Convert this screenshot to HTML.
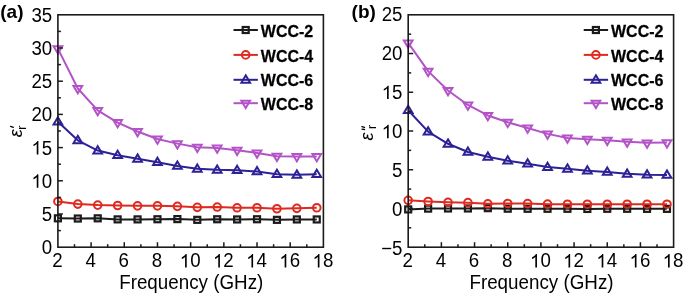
<!DOCTYPE html>
<html><head><meta charset="utf-8"><style>
html,body{margin:0;padding:0;background:#fff;}
body{width:685px;height:295px;overflow:hidden;}
svg{display:block;will-change:transform;filter:blur(0.35px);}
text{font-family:"Liberation Sans",sans-serif;fill:#000;}
</style></head><body>
<svg width="685" height="295" viewBox="0 0 685 295">
<text x="52.20" y="267.50" font-size="18.7" transform="matrix(1,0,0,1.045,0,-12.037)">2</text>
<text x="85.39" y="267.50" font-size="18.7" transform="matrix(1,0,0,1.045,0,-12.037)">4</text>
<text x="118.58" y="267.50" font-size="18.7" transform="matrix(1,0,0,1.045,0,-12.037)">6</text>
<text x="151.76" y="267.50" font-size="18.7" transform="matrix(1,0,0,1.045,0,-12.037)">8</text>
<text x="179.75" y="267.50" font-size="18.7" transform="matrix(1,0,0,1.045,0,-12.037)"> 0</text><path d="M763 0H583V1147Q518 1085 412 1023Q307 961 223 930V1104Q374 1175 487 1276Q600 1377 647 1472H763Z" transform="translate(179.75,267.50) scale(0.00913,-0.00913)" fill="#000"/>
<text x="212.94" y="267.50" font-size="18.7" transform="matrix(1,0,0,1.045,0,-12.037)"> 2</text><path d="M763 0H583V1147Q518 1085 412 1023Q307 961 223 930V1104Q374 1175 487 1276Q600 1377 647 1472H763Z" transform="translate(212.94,267.50) scale(0.00913,-0.00913)" fill="#000"/>
<text x="246.13" y="267.50" font-size="18.7" transform="matrix(1,0,0,1.045,0,-12.037)"> 4</text><path d="M763 0H583V1147Q518 1085 412 1023Q307 961 223 930V1104Q374 1175 487 1276Q600 1377 647 1472H763Z" transform="translate(246.13,267.50) scale(0.00913,-0.00913)" fill="#000"/>
<text x="279.32" y="267.50" font-size="18.7" transform="matrix(1,0,0,1.045,0,-12.037)"> 6</text><path d="M763 0H583V1147Q518 1085 412 1023Q307 961 223 930V1104Q374 1175 487 1276Q600 1377 647 1472H763Z" transform="translate(279.32,267.50) scale(0.00913,-0.00913)" fill="#000"/>
<text x="312.50" y="267.50" font-size="18.7" transform="matrix(1,0,0,1.045,0,-12.037)"> 8</text><path d="M763 0H583V1147Q518 1085 412 1023Q307 961 223 930V1104Q374 1175 487 1276Q600 1377 647 1472H763Z" transform="translate(312.50,267.50) scale(0.00913,-0.00913)" fill="#000"/>
<text x="41.80" y="254.15" font-size="18.7" transform="matrix(1,0,0,1.045,0,-11.437)">0</text>
<text x="41.80" y="220.95" font-size="18.7" transform="matrix(1,0,0,1.045,0,-9.943)">5</text>
<text x="31.41" y="187.75" font-size="18.7" transform="matrix(1,0,0,1.045,0,-8.449)"> 0</text><path d="M763 0H583V1147Q518 1085 412 1023Q307 961 223 930V1104Q374 1175 487 1276Q600 1377 647 1472H763Z" transform="translate(31.41,187.75) scale(0.00913,-0.00913)" fill="#000"/>
<text x="31.41" y="154.55" font-size="18.7" transform="matrix(1,0,0,1.045,0,-6.955)"> 5</text><path d="M763 0H583V1147Q518 1085 412 1023Q307 961 223 930V1104Q374 1175 487 1276Q600 1377 647 1472H763Z" transform="translate(31.41,154.55) scale(0.00913,-0.00913)" fill="#000"/>
<text x="31.41" y="121.35" font-size="18.7" transform="matrix(1,0,0,1.045,0,-5.461)">20</text>
<text x="31.41" y="88.15" font-size="18.7" transform="matrix(1,0,0,1.045,0,-3.967)">25</text>
<text x="31.41" y="54.95" font-size="18.7" transform="matrix(1,0,0,1.045,0,-2.473)">30</text>
<text x="31.41" y="21.75" font-size="18.7" transform="matrix(1,0,0,1.045,0,-0.979)">35</text>
<path d="M57.90 218.32L77.81 218.52L97.72 218.32L117.64 219.38L137.55 219.38L157.46 219.25L177.38 219.11L197.29 219.84L217.20 219.25L237.11 219.44L257.02 219.25L276.94 219.84L296.85 219.44L316.76 219.44" fill="none" stroke="#1b1b1b" stroke-width="2.0" stroke-linejoin="round"/>
<rect x="54.90" y="215.32" width="6.0" height="6.0" fill="none" stroke="#1b1b1b" stroke-width="2.2"/>
<rect x="74.81" y="215.52" width="6.0" height="6.0" fill="none" stroke="#1b1b1b" stroke-width="2.2"/>
<rect x="94.72" y="215.32" width="6.0" height="6.0" fill="none" stroke="#1b1b1b" stroke-width="2.2"/>
<rect x="114.64" y="216.38" width="6.0" height="6.0" fill="none" stroke="#1b1b1b" stroke-width="2.2"/>
<rect x="134.55" y="216.38" width="6.0" height="6.0" fill="none" stroke="#1b1b1b" stroke-width="2.2"/>
<rect x="154.46" y="216.25" width="6.0" height="6.0" fill="none" stroke="#1b1b1b" stroke-width="2.2"/>
<rect x="174.38" y="216.11" width="6.0" height="6.0" fill="none" stroke="#1b1b1b" stroke-width="2.2"/>
<rect x="194.29" y="216.84" width="6.0" height="6.0" fill="none" stroke="#1b1b1b" stroke-width="2.2"/>
<rect x="214.20" y="216.25" width="6.0" height="6.0" fill="none" stroke="#1b1b1b" stroke-width="2.2"/>
<rect x="234.11" y="216.44" width="6.0" height="6.0" fill="none" stroke="#1b1b1b" stroke-width="2.2"/>
<rect x="254.02" y="216.25" width="6.0" height="6.0" fill="none" stroke="#1b1b1b" stroke-width="2.2"/>
<rect x="273.94" y="216.84" width="6.0" height="6.0" fill="none" stroke="#1b1b1b" stroke-width="2.2"/>
<rect x="293.85" y="216.44" width="6.0" height="6.0" fill="none" stroke="#1b1b1b" stroke-width="2.2"/>
<rect x="313.76" y="216.44" width="6.0" height="6.0" fill="none" stroke="#1b1b1b" stroke-width="2.2"/>
<path d="M57.90 201.45L77.81 204.11L97.72 205.10L117.64 205.50L137.55 205.83L157.46 205.83L177.38 206.36L197.29 207.36L217.20 207.03L237.11 207.82L257.02 207.76L276.94 208.75L296.85 208.36L316.76 207.76" fill="none" stroke="#df2a20" stroke-width="2.0" stroke-linejoin="round"/>
<circle cx="57.90" cy="201.45" r="3.8" fill="none" stroke="#df2a20" stroke-width="2.0"/>
<circle cx="77.81" cy="204.11" r="3.8" fill="none" stroke="#df2a20" stroke-width="2.0"/>
<circle cx="97.72" cy="205.10" r="3.8" fill="none" stroke="#df2a20" stroke-width="2.0"/>
<circle cx="117.64" cy="205.50" r="3.8" fill="none" stroke="#df2a20" stroke-width="2.0"/>
<circle cx="137.55" cy="205.83" r="3.8" fill="none" stroke="#df2a20" stroke-width="2.0"/>
<circle cx="157.46" cy="205.83" r="3.8" fill="none" stroke="#df2a20" stroke-width="2.0"/>
<circle cx="177.38" cy="206.36" r="3.8" fill="none" stroke="#df2a20" stroke-width="2.0"/>
<circle cx="197.29" cy="207.36" r="3.8" fill="none" stroke="#df2a20" stroke-width="2.0"/>
<circle cx="217.20" cy="207.03" r="3.8" fill="none" stroke="#df2a20" stroke-width="2.0"/>
<circle cx="237.11" cy="207.82" r="3.8" fill="none" stroke="#df2a20" stroke-width="2.0"/>
<circle cx="257.02" cy="207.76" r="3.8" fill="none" stroke="#df2a20" stroke-width="2.0"/>
<circle cx="276.94" cy="208.75" r="3.8" fill="none" stroke="#df2a20" stroke-width="2.0"/>
<circle cx="296.85" cy="208.36" r="3.8" fill="none" stroke="#df2a20" stroke-width="2.0"/>
<circle cx="316.76" cy="207.76" r="3.8" fill="none" stroke="#df2a20" stroke-width="2.0"/>
<path d="M57.90 121.70L77.81 140.30L97.72 150.59L117.64 155.17L137.55 158.82L157.46 162.27L177.38 165.99L197.29 168.85L217.20 169.84L237.11 170.18L257.02 171.50L276.94 174.16L296.85 174.82L316.76 174.16" fill="none" stroke="#2d2196" stroke-width="2.0" stroke-linejoin="round"/>
<path d="M57.90 117.25L62.25 124.55L53.55 124.55Z" fill="none" stroke="#2d2196" stroke-width="2.0" stroke-linejoin="miter"/>
<path d="M77.81 135.85L82.16 143.15L73.46 143.15Z" fill="none" stroke="#2d2196" stroke-width="2.0" stroke-linejoin="miter"/>
<path d="M97.72 146.14L102.07 153.44L93.38 153.44Z" fill="none" stroke="#2d2196" stroke-width="2.0" stroke-linejoin="miter"/>
<path d="M117.64 150.72L121.99 158.02L113.29 158.02Z" fill="none" stroke="#2d2196" stroke-width="2.0" stroke-linejoin="miter"/>
<path d="M137.55 154.37L141.90 161.67L133.20 161.67Z" fill="none" stroke="#2d2196" stroke-width="2.0" stroke-linejoin="miter"/>
<path d="M157.46 157.82L161.81 165.12L153.11 165.12Z" fill="none" stroke="#2d2196" stroke-width="2.0" stroke-linejoin="miter"/>
<path d="M177.38 161.54L181.72 168.84L173.03 168.84Z" fill="none" stroke="#2d2196" stroke-width="2.0" stroke-linejoin="miter"/>
<path d="M197.29 164.40L201.64 171.70L192.94 171.70Z" fill="none" stroke="#2d2196" stroke-width="2.0" stroke-linejoin="miter"/>
<path d="M217.20 165.39L221.55 172.69L212.85 172.69Z" fill="none" stroke="#2d2196" stroke-width="2.0" stroke-linejoin="miter"/>
<path d="M237.11 165.73L241.46 173.03L232.76 173.03Z" fill="none" stroke="#2d2196" stroke-width="2.0" stroke-linejoin="miter"/>
<path d="M257.02 167.05L261.38 174.35L252.67 174.35Z" fill="none" stroke="#2d2196" stroke-width="2.0" stroke-linejoin="miter"/>
<path d="M276.94 169.71L281.29 177.01L272.59 177.01Z" fill="none" stroke="#2d2196" stroke-width="2.0" stroke-linejoin="miter"/>
<path d="M296.85 170.37L301.20 177.67L292.50 177.67Z" fill="none" stroke="#2d2196" stroke-width="2.0" stroke-linejoin="miter"/>
<path d="M316.76 169.71L321.11 177.01L312.41 177.01Z" fill="none" stroke="#2d2196" stroke-width="2.0" stroke-linejoin="miter"/>
<path d="M57.90 48.66L77.81 88.50L97.72 110.42L117.64 122.57L137.55 131.53L157.46 138.97L177.38 143.62L197.29 147.27L217.20 147.93L237.11 150.26L257.02 152.91L276.94 156.23L296.85 156.56L316.76 156.56" fill="none" stroke="#b453c8" stroke-width="2.0" stroke-linejoin="round"/>
<path d="M53.55 46.21L62.25 46.21L57.90 53.51Z" fill="none" stroke="#b453c8" stroke-width="2.0" stroke-linejoin="miter"/>
<path d="M73.46 86.05L82.16 86.05L77.81 93.35Z" fill="none" stroke="#b453c8" stroke-width="2.0" stroke-linejoin="miter"/>
<path d="M93.38 107.97L102.07 107.97L97.72 115.27Z" fill="none" stroke="#b453c8" stroke-width="2.0" stroke-linejoin="miter"/>
<path d="M113.29 120.12L121.99 120.12L117.64 127.42Z" fill="none" stroke="#b453c8" stroke-width="2.0" stroke-linejoin="miter"/>
<path d="M133.20 129.08L141.90 129.08L137.55 136.38Z" fill="none" stroke="#b453c8" stroke-width="2.0" stroke-linejoin="miter"/>
<path d="M153.11 136.52L161.81 136.52L157.46 143.82Z" fill="none" stroke="#b453c8" stroke-width="2.0" stroke-linejoin="miter"/>
<path d="M173.03 141.17L181.72 141.17L177.38 148.47Z" fill="none" stroke="#b453c8" stroke-width="2.0" stroke-linejoin="miter"/>
<path d="M192.94 144.82L201.64 144.82L197.29 152.12Z" fill="none" stroke="#b453c8" stroke-width="2.0" stroke-linejoin="miter"/>
<path d="M212.85 145.48L221.55 145.48L217.20 152.78Z" fill="none" stroke="#b453c8" stroke-width="2.0" stroke-linejoin="miter"/>
<path d="M232.76 147.81L241.46 147.81L237.11 155.11Z" fill="none" stroke="#b453c8" stroke-width="2.0" stroke-linejoin="miter"/>
<path d="M252.67 150.46L261.38 150.46L257.02 157.76Z" fill="none" stroke="#b453c8" stroke-width="2.0" stroke-linejoin="miter"/>
<path d="M272.59 153.78L281.29 153.78L276.94 161.08Z" fill="none" stroke="#b453c8" stroke-width="2.0" stroke-linejoin="miter"/>
<path d="M292.50 154.11L301.20 154.11L296.85 161.41Z" fill="none" stroke="#b453c8" stroke-width="2.0" stroke-linejoin="miter"/>
<path d="M312.41 154.11L321.11 154.11L316.76 161.41Z" fill="none" stroke="#b453c8" stroke-width="2.0" stroke-linejoin="miter"/>
<rect x="57.9" y="14.8" width="265.50" height="232.40" fill="none" stroke="#1b1b1b" stroke-width="1.6"/>
<line x1="74.49" y1="247.2" x2="74.49" y2="244.2" stroke="#1b1b1b" stroke-width="1.5"/>
<line x1="91.09" y1="247.2" x2="91.09" y2="242.2" stroke="#1b1b1b" stroke-width="1.5"/>
<line x1="107.68" y1="247.2" x2="107.68" y2="244.2" stroke="#1b1b1b" stroke-width="1.5"/>
<line x1="124.28" y1="247.2" x2="124.28" y2="242.2" stroke="#1b1b1b" stroke-width="1.5"/>
<line x1="140.87" y1="247.2" x2="140.87" y2="244.2" stroke="#1b1b1b" stroke-width="1.5"/>
<line x1="157.46" y1="247.2" x2="157.46" y2="242.2" stroke="#1b1b1b" stroke-width="1.5"/>
<line x1="174.06" y1="247.2" x2="174.06" y2="244.2" stroke="#1b1b1b" stroke-width="1.5"/>
<line x1="190.65" y1="247.2" x2="190.65" y2="242.2" stroke="#1b1b1b" stroke-width="1.5"/>
<line x1="207.24" y1="247.2" x2="207.24" y2="244.2" stroke="#1b1b1b" stroke-width="1.5"/>
<line x1="223.84" y1="247.2" x2="223.84" y2="242.2" stroke="#1b1b1b" stroke-width="1.5"/>
<line x1="240.43" y1="247.2" x2="240.43" y2="244.2" stroke="#1b1b1b" stroke-width="1.5"/>
<line x1="257.02" y1="247.2" x2="257.02" y2="242.2" stroke="#1b1b1b" stroke-width="1.5"/>
<line x1="273.62" y1="247.2" x2="273.62" y2="244.2" stroke="#1b1b1b" stroke-width="1.5"/>
<line x1="290.21" y1="247.2" x2="290.21" y2="242.2" stroke="#1b1b1b" stroke-width="1.5"/>
<line x1="306.81" y1="247.2" x2="306.81" y2="244.2" stroke="#1b1b1b" stroke-width="1.5"/>
<line x1="57.9" y1="230.60" x2="60.9" y2="230.60" stroke="#1b1b1b" stroke-width="1.5"/>
<line x1="57.9" y1="214.00" x2="62.9" y2="214.00" stroke="#1b1b1b" stroke-width="1.5"/>
<line x1="57.9" y1="197.40" x2="60.9" y2="197.40" stroke="#1b1b1b" stroke-width="1.5"/>
<line x1="57.9" y1="180.80" x2="62.9" y2="180.80" stroke="#1b1b1b" stroke-width="1.5"/>
<line x1="57.9" y1="164.20" x2="60.9" y2="164.20" stroke="#1b1b1b" stroke-width="1.5"/>
<line x1="57.9" y1="147.60" x2="62.9" y2="147.60" stroke="#1b1b1b" stroke-width="1.5"/>
<line x1="57.9" y1="131.00" x2="60.9" y2="131.00" stroke="#1b1b1b" stroke-width="1.5"/>
<line x1="57.9" y1="114.40" x2="62.9" y2="114.40" stroke="#1b1b1b" stroke-width="1.5"/>
<line x1="57.9" y1="97.80" x2="60.9" y2="97.80" stroke="#1b1b1b" stroke-width="1.5"/>
<line x1="57.9" y1="81.20" x2="62.9" y2="81.20" stroke="#1b1b1b" stroke-width="1.5"/>
<line x1="57.9" y1="64.60" x2="60.9" y2="64.60" stroke="#1b1b1b" stroke-width="1.5"/>
<line x1="57.9" y1="48.00" x2="62.9" y2="48.00" stroke="#1b1b1b" stroke-width="1.5"/>
<line x1="57.9" y1="31.40" x2="60.9" y2="31.40" stroke="#1b1b1b" stroke-width="1.5"/>
<line x1="233.50" y1="30.0" x2="257.90" y2="30.0" stroke="#1b1b1b" stroke-width="2.0"/>
<rect x="242.70" y="27.00" width="6.0" height="6.0" fill="none" stroke="#1b1b1b" stroke-width="2.2"/>
<text x="260.80" y="36.70" font-size="16" font-weight="bold" stroke="#000" stroke-width="0.25" transform="matrix(1,0,0,1.045,0,-1.651)">WCC-2</text>
<line x1="233.50" y1="54.9" x2="257.90" y2="54.9" stroke="#df2a20" stroke-width="2.0"/>
<circle cx="245.70" cy="54.90" r="3.8" fill="none" stroke="#df2a20" stroke-width="2.0"/>
<text x="260.80" y="61.60" font-size="16" font-weight="bold" stroke="#000" stroke-width="0.25" transform="matrix(1,0,0,1.045,0,-2.772)">WCC-4</text>
<line x1="233.50" y1="79.8" x2="257.90" y2="79.8" stroke="#2d2196" stroke-width="2.0"/>
<path d="M245.70 75.35L250.05 82.65L241.35 82.65Z" fill="none" stroke="#2d2196" stroke-width="2.0" stroke-linejoin="miter"/>
<text x="260.80" y="86.50" font-size="16" font-weight="bold" stroke="#000" stroke-width="0.25" transform="matrix(1,0,0,1.045,0,-3.892)">WCC-6</text>
<line x1="233.50" y1="103.2" x2="257.90" y2="103.2" stroke="#b453c8" stroke-width="2.0"/>
<path d="M241.35 100.75L250.05 100.75L245.70 108.05Z" fill="none" stroke="#b453c8" stroke-width="2.0" stroke-linejoin="miter"/>
<text x="260.80" y="109.90" font-size="16" font-weight="bold" stroke="#000" stroke-width="0.25" transform="matrix(1,0,0,1.045,0,-4.945)">WCC-8</text>
<text x="0.3" y="18.1" font-size="19" font-weight="bold">(a)</text>
<text x="191.25" y="288.8" font-size="18.8" text-anchor="middle" transform="matrix(1,0,0,1.045,0,-12.996)">Frequency (GHz)</text>
<g transform="translate(21.8,137.3) rotate(-90)"><text x="0" y="0" font-size="18" font-style="italic">ε</text><text x="7.6" y="3.9" font-size="12.5">r</text></g>
<line x1="10.6" y1="126.4" x2="13.3" y2="127.3" stroke="#000" stroke-width="1.35" stroke-linecap="round"/>
<text x="402.50" y="267.50" font-size="18.7" transform="matrix(1,0,0,1.045,0,-12.037)">2</text>
<text x="435.68" y="267.50" font-size="18.7" transform="matrix(1,0,0,1.045,0,-12.037)">4</text>
<text x="468.85" y="267.50" font-size="18.7" transform="matrix(1,0,0,1.045,0,-12.037)">6</text>
<text x="502.03" y="267.50" font-size="18.7" transform="matrix(1,0,0,1.045,0,-12.037)">8</text>
<text x="530.00" y="267.50" font-size="18.7" transform="matrix(1,0,0,1.045,0,-12.037)"> 0</text><path d="M763 0H583V1147Q518 1085 412 1023Q307 961 223 930V1104Q374 1175 487 1276Q600 1377 647 1472H763Z" transform="translate(530.00,267.50) scale(0.00913,-0.00913)" fill="#000"/>
<text x="563.18" y="267.50" font-size="18.7" transform="matrix(1,0,0,1.045,0,-12.037)"> 2</text><path d="M763 0H583V1147Q518 1085 412 1023Q307 961 223 930V1104Q374 1175 487 1276Q600 1377 647 1472H763Z" transform="translate(563.18,267.50) scale(0.00913,-0.00913)" fill="#000"/>
<text x="596.35" y="267.50" font-size="18.7" transform="matrix(1,0,0,1.045,0,-12.037)"> 4</text><path d="M763 0H583V1147Q518 1085 412 1023Q307 961 223 930V1104Q374 1175 487 1276Q600 1377 647 1472H763Z" transform="translate(596.35,267.50) scale(0.00913,-0.00913)" fill="#000"/>
<text x="629.53" y="267.50" font-size="18.7" transform="matrix(1,0,0,1.045,0,-12.037)"> 6</text><path d="M763 0H583V1147Q518 1085 412 1023Q307 961 223 930V1104Q374 1175 487 1276Q600 1377 647 1472H763Z" transform="translate(629.53,267.50) scale(0.00913,-0.00913)" fill="#000"/>
<text x="662.70" y="267.50" font-size="18.7" transform="matrix(1,0,0,1.045,0,-12.037)"> 8</text><path d="M763 0H583V1147Q518 1085 412 1023Q307 961 223 930V1104Q374 1175 487 1276Q600 1377 647 1472H763Z" transform="translate(662.70,267.50) scale(0.00913,-0.00913)" fill="#000"/>
<text x="381.18" y="255.30" font-size="18.7" transform="matrix(1,0,0,1.045,0,-11.489)">−5</text>
<text x="392.10" y="216.24" font-size="18.7" transform="matrix(1,0,0,1.045,0,-9.731)">0</text>
<text x="392.10" y="177.18" font-size="18.7" transform="matrix(1,0,0,1.045,0,-7.973)">5</text>
<text x="381.71" y="138.13" font-size="18.7" transform="matrix(1,0,0,1.045,0,-6.216)"> 0</text><path d="M763 0H583V1147Q518 1085 412 1023Q307 961 223 930V1104Q374 1175 487 1276Q600 1377 647 1472H763Z" transform="translate(381.71,138.13) scale(0.00913,-0.00913)" fill="#000"/>
<text x="381.71" y="99.07" font-size="18.7" transform="matrix(1,0,0,1.045,0,-4.458)"> 5</text><path d="M763 0H583V1147Q518 1085 412 1023Q307 961 223 930V1104Q374 1175 487 1276Q600 1377 647 1472H763Z" transform="translate(381.71,99.07) scale(0.00913,-0.00913)" fill="#000"/>
<text x="381.71" y="60.01" font-size="18.7" transform="matrix(1,0,0,1.045,0,-2.700)">20</text>
<text x="381.71" y="20.95" font-size="18.7" transform="matrix(1,0,0,1.045,0,-0.943)">25</text>
<path d="M408.20 209.40L428.11 208.62L448.01 208.47L467.91 208.47L487.82 208.16L507.73 208.70L527.63 208.78L547.54 208.78L567.44 208.78L587.35 208.93L607.25 208.78L627.15 208.78L647.06 208.85L666.97 208.85" fill="none" stroke="#1b1b1b" stroke-width="2.0" stroke-linejoin="round"/>
<rect x="405.20" y="206.40" width="6.0" height="6.0" fill="none" stroke="#1b1b1b" stroke-width="2.2"/>
<rect x="425.11" y="205.62" width="6.0" height="6.0" fill="none" stroke="#1b1b1b" stroke-width="2.2"/>
<rect x="445.01" y="205.47" width="6.0" height="6.0" fill="none" stroke="#1b1b1b" stroke-width="2.2"/>
<rect x="464.91" y="205.47" width="6.0" height="6.0" fill="none" stroke="#1b1b1b" stroke-width="2.2"/>
<rect x="484.82" y="205.16" width="6.0" height="6.0" fill="none" stroke="#1b1b1b" stroke-width="2.2"/>
<rect x="504.73" y="205.70" width="6.0" height="6.0" fill="none" stroke="#1b1b1b" stroke-width="2.2"/>
<rect x="524.63" y="205.78" width="6.0" height="6.0" fill="none" stroke="#1b1b1b" stroke-width="2.2"/>
<rect x="544.54" y="205.78" width="6.0" height="6.0" fill="none" stroke="#1b1b1b" stroke-width="2.2"/>
<rect x="564.44" y="205.78" width="6.0" height="6.0" fill="none" stroke="#1b1b1b" stroke-width="2.2"/>
<rect x="584.35" y="205.93" width="6.0" height="6.0" fill="none" stroke="#1b1b1b" stroke-width="2.2"/>
<rect x="604.25" y="205.78" width="6.0" height="6.0" fill="none" stroke="#1b1b1b" stroke-width="2.2"/>
<rect x="624.15" y="205.78" width="6.0" height="6.0" fill="none" stroke="#1b1b1b" stroke-width="2.2"/>
<rect x="644.06" y="205.85" width="6.0" height="6.0" fill="none" stroke="#1b1b1b" stroke-width="2.2"/>
<rect x="663.97" y="205.85" width="6.0" height="6.0" fill="none" stroke="#1b1b1b" stroke-width="2.2"/>
<path d="M408.20 200.33L428.11 201.49L448.01 202.27L467.91 202.66L487.82 203.82L507.73 203.43L527.63 203.59L547.54 204.13L567.44 204.21L587.35 204.21L607.25 204.21L627.15 204.21L647.06 204.21L666.97 204.21" fill="none" stroke="#df2a20" stroke-width="2.0" stroke-linejoin="round"/>
<circle cx="408.20" cy="200.33" r="3.8" fill="none" stroke="#df2a20" stroke-width="2.0"/>
<circle cx="428.11" cy="201.49" r="3.8" fill="none" stroke="#df2a20" stroke-width="2.0"/>
<circle cx="448.01" cy="202.27" r="3.8" fill="none" stroke="#df2a20" stroke-width="2.0"/>
<circle cx="467.91" cy="202.66" r="3.8" fill="none" stroke="#df2a20" stroke-width="2.0"/>
<circle cx="487.82" cy="203.82" r="3.8" fill="none" stroke="#df2a20" stroke-width="2.0"/>
<circle cx="507.73" cy="203.43" r="3.8" fill="none" stroke="#df2a20" stroke-width="2.0"/>
<circle cx="527.63" cy="203.59" r="3.8" fill="none" stroke="#df2a20" stroke-width="2.0"/>
<circle cx="547.54" cy="204.13" r="3.8" fill="none" stroke="#df2a20" stroke-width="2.0"/>
<circle cx="567.44" cy="204.21" r="3.8" fill="none" stroke="#df2a20" stroke-width="2.0"/>
<circle cx="587.35" cy="204.21" r="3.8" fill="none" stroke="#df2a20" stroke-width="2.0"/>
<circle cx="607.25" cy="204.21" r="3.8" fill="none" stroke="#df2a20" stroke-width="2.0"/>
<circle cx="627.15" cy="204.21" r="3.8" fill="none" stroke="#df2a20" stroke-width="2.0"/>
<circle cx="647.06" cy="204.21" r="3.8" fill="none" stroke="#df2a20" stroke-width="2.0"/>
<circle cx="666.97" cy="204.21" r="3.8" fill="none" stroke="#df2a20" stroke-width="2.0"/>
<path d="M408.20 110.24L428.11 131.62L448.01 143.78L467.91 151.99L487.82 156.80L507.73 160.67L527.63 163.69L547.54 167.10L567.44 168.80L587.35 170.74L607.25 171.90L627.15 173.84L647.06 174.77L666.97 174.92" fill="none" stroke="#2d2196" stroke-width="2.0" stroke-linejoin="round"/>
<path d="M408.20 105.79L412.55 113.09L403.85 113.09Z" fill="none" stroke="#2d2196" stroke-width="2.0" stroke-linejoin="miter"/>
<path d="M428.11 127.17L432.46 134.47L423.75 134.47Z" fill="none" stroke="#2d2196" stroke-width="2.0" stroke-linejoin="miter"/>
<path d="M448.01 139.33L452.36 146.63L443.66 146.63Z" fill="none" stroke="#2d2196" stroke-width="2.0" stroke-linejoin="miter"/>
<path d="M467.91 147.54L472.26 154.84L463.56 154.84Z" fill="none" stroke="#2d2196" stroke-width="2.0" stroke-linejoin="miter"/>
<path d="M487.82 152.35L492.17 159.65L483.47 159.65Z" fill="none" stroke="#2d2196" stroke-width="2.0" stroke-linejoin="miter"/>
<path d="M507.73 156.22L512.08 163.52L503.38 163.52Z" fill="none" stroke="#2d2196" stroke-width="2.0" stroke-linejoin="miter"/>
<path d="M527.63 159.24L531.98 166.54L523.28 166.54Z" fill="none" stroke="#2d2196" stroke-width="2.0" stroke-linejoin="miter"/>
<path d="M547.54 162.65L551.89 169.95L543.19 169.95Z" fill="none" stroke="#2d2196" stroke-width="2.0" stroke-linejoin="miter"/>
<path d="M567.44 164.35L571.79 171.65L563.09 171.65Z" fill="none" stroke="#2d2196" stroke-width="2.0" stroke-linejoin="miter"/>
<path d="M587.35 166.29L591.70 173.59L583.00 173.59Z" fill="none" stroke="#2d2196" stroke-width="2.0" stroke-linejoin="miter"/>
<path d="M607.25 167.45L611.60 174.75L602.90 174.75Z" fill="none" stroke="#2d2196" stroke-width="2.0" stroke-linejoin="miter"/>
<path d="M627.15 169.39L631.50 176.69L622.80 176.69Z" fill="none" stroke="#2d2196" stroke-width="2.0" stroke-linejoin="miter"/>
<path d="M647.06 170.32L651.41 177.62L642.71 177.62Z" fill="none" stroke="#2d2196" stroke-width="2.0" stroke-linejoin="miter"/>
<path d="M666.97 170.47L671.32 177.77L662.62 177.77Z" fill="none" stroke="#2d2196" stroke-width="2.0" stroke-linejoin="miter"/>
<path d="M408.20 42.92L428.11 71.12L448.01 90.48L467.91 104.97L487.82 115.43L507.73 122.32L527.63 127.98L547.54 133.87L567.44 137.97L587.35 139.21L607.25 140.14L627.15 141.85L647.06 142.85L666.97 142.62" fill="none" stroke="#b453c8" stroke-width="2.0" stroke-linejoin="round"/>
<path d="M403.85 40.47L412.55 40.47L408.20 47.77Z" fill="none" stroke="#b453c8" stroke-width="2.0" stroke-linejoin="miter"/>
<path d="M423.75 68.67L432.46 68.67L428.11 75.97Z" fill="none" stroke="#b453c8" stroke-width="2.0" stroke-linejoin="miter"/>
<path d="M443.66 88.03L452.36 88.03L448.01 95.33Z" fill="none" stroke="#b453c8" stroke-width="2.0" stroke-linejoin="miter"/>
<path d="M463.56 102.52L472.26 102.52L467.91 109.82Z" fill="none" stroke="#b453c8" stroke-width="2.0" stroke-linejoin="miter"/>
<path d="M483.47 112.98L492.17 112.98L487.82 120.28Z" fill="none" stroke="#b453c8" stroke-width="2.0" stroke-linejoin="miter"/>
<path d="M503.38 119.87L512.08 119.87L507.73 127.17Z" fill="none" stroke="#b453c8" stroke-width="2.0" stroke-linejoin="miter"/>
<path d="M523.28 125.53L531.98 125.53L527.63 132.83Z" fill="none" stroke="#b453c8" stroke-width="2.0" stroke-linejoin="miter"/>
<path d="M543.19 131.42L551.89 131.42L547.54 138.72Z" fill="none" stroke="#b453c8" stroke-width="2.0" stroke-linejoin="miter"/>
<path d="M563.09 135.52L571.79 135.52L567.44 142.82Z" fill="none" stroke="#b453c8" stroke-width="2.0" stroke-linejoin="miter"/>
<path d="M583.00 136.76L591.70 136.76L587.35 144.06Z" fill="none" stroke="#b453c8" stroke-width="2.0" stroke-linejoin="miter"/>
<path d="M602.90 137.69L611.60 137.69L607.25 144.99Z" fill="none" stroke="#b453c8" stroke-width="2.0" stroke-linejoin="miter"/>
<path d="M622.80 139.40L631.50 139.40L627.15 146.70Z" fill="none" stroke="#b453c8" stroke-width="2.0" stroke-linejoin="miter"/>
<path d="M642.71 140.40L651.41 140.40L647.06 147.70Z" fill="none" stroke="#b453c8" stroke-width="2.0" stroke-linejoin="miter"/>
<path d="M662.62 140.17L671.32 140.17L666.97 147.47Z" fill="none" stroke="#b453c8" stroke-width="2.0" stroke-linejoin="miter"/>
<rect x="408.2" y="14.8" width="265.40" height="232.40" fill="none" stroke="#1b1b1b" stroke-width="1.6"/>
<line x1="424.79" y1="247.2" x2="424.79" y2="244.2" stroke="#1b1b1b" stroke-width="1.5"/>
<line x1="441.38" y1="247.2" x2="441.38" y2="242.2" stroke="#1b1b1b" stroke-width="1.5"/>
<line x1="457.96" y1="247.2" x2="457.96" y2="244.2" stroke="#1b1b1b" stroke-width="1.5"/>
<line x1="474.55" y1="247.2" x2="474.55" y2="242.2" stroke="#1b1b1b" stroke-width="1.5"/>
<line x1="491.14" y1="247.2" x2="491.14" y2="244.2" stroke="#1b1b1b" stroke-width="1.5"/>
<line x1="507.73" y1="247.2" x2="507.73" y2="242.2" stroke="#1b1b1b" stroke-width="1.5"/>
<line x1="524.31" y1="247.2" x2="524.31" y2="244.2" stroke="#1b1b1b" stroke-width="1.5"/>
<line x1="540.90" y1="247.2" x2="540.90" y2="242.2" stroke="#1b1b1b" stroke-width="1.5"/>
<line x1="557.49" y1="247.2" x2="557.49" y2="244.2" stroke="#1b1b1b" stroke-width="1.5"/>
<line x1="574.08" y1="247.2" x2="574.08" y2="242.2" stroke="#1b1b1b" stroke-width="1.5"/>
<line x1="590.66" y1="247.2" x2="590.66" y2="244.2" stroke="#1b1b1b" stroke-width="1.5"/>
<line x1="607.25" y1="247.2" x2="607.25" y2="242.2" stroke="#1b1b1b" stroke-width="1.5"/>
<line x1="623.84" y1="247.2" x2="623.84" y2="244.2" stroke="#1b1b1b" stroke-width="1.5"/>
<line x1="640.42" y1="247.2" x2="640.42" y2="242.2" stroke="#1b1b1b" stroke-width="1.5"/>
<line x1="657.01" y1="247.2" x2="657.01" y2="244.2" stroke="#1b1b1b" stroke-width="1.5"/>
<line x1="408.2" y1="227.83" x2="411.2" y2="227.83" stroke="#1b1b1b" stroke-width="1.5"/>
<line x1="408.2" y1="208.47" x2="413.2" y2="208.47" stroke="#1b1b1b" stroke-width="1.5"/>
<line x1="408.2" y1="189.10" x2="411.2" y2="189.10" stroke="#1b1b1b" stroke-width="1.5"/>
<line x1="408.2" y1="169.73" x2="413.2" y2="169.73" stroke="#1b1b1b" stroke-width="1.5"/>
<line x1="408.2" y1="150.37" x2="411.2" y2="150.37" stroke="#1b1b1b" stroke-width="1.5"/>
<line x1="408.2" y1="131.00" x2="413.2" y2="131.00" stroke="#1b1b1b" stroke-width="1.5"/>
<line x1="408.2" y1="111.63" x2="411.2" y2="111.63" stroke="#1b1b1b" stroke-width="1.5"/>
<line x1="408.2" y1="92.27" x2="413.2" y2="92.27" stroke="#1b1b1b" stroke-width="1.5"/>
<line x1="408.2" y1="72.90" x2="411.2" y2="72.90" stroke="#1b1b1b" stroke-width="1.5"/>
<line x1="408.2" y1="53.53" x2="413.2" y2="53.53" stroke="#1b1b1b" stroke-width="1.5"/>
<line x1="408.2" y1="34.17" x2="411.2" y2="34.17" stroke="#1b1b1b" stroke-width="1.5"/>
<line x1="583.70" y1="30.0" x2="608.10" y2="30.0" stroke="#1b1b1b" stroke-width="2.0"/>
<rect x="592.90" y="27.00" width="6.0" height="6.0" fill="none" stroke="#1b1b1b" stroke-width="2.2"/>
<text x="611.00" y="36.70" font-size="16" font-weight="bold" stroke="#000" stroke-width="0.25" transform="matrix(1,0,0,1.045,0,-1.651)">WCC-2</text>
<line x1="583.70" y1="54.9" x2="608.10" y2="54.9" stroke="#df2a20" stroke-width="2.0"/>
<circle cx="595.90" cy="54.90" r="3.8" fill="none" stroke="#df2a20" stroke-width="2.0"/>
<text x="611.00" y="61.60" font-size="16" font-weight="bold" stroke="#000" stroke-width="0.25" transform="matrix(1,0,0,1.045,0,-2.772)">WCC-4</text>
<line x1="583.70" y1="79.8" x2="608.10" y2="79.8" stroke="#2d2196" stroke-width="2.0"/>
<path d="M595.90 75.35L600.25 82.65L591.55 82.65Z" fill="none" stroke="#2d2196" stroke-width="2.0" stroke-linejoin="miter"/>
<text x="611.00" y="86.50" font-size="16" font-weight="bold" stroke="#000" stroke-width="0.25" transform="matrix(1,0,0,1.045,0,-3.892)">WCC-6</text>
<line x1="583.70" y1="103.2" x2="608.10" y2="103.2" stroke="#b453c8" stroke-width="2.0"/>
<path d="M591.55 100.75L600.25 100.75L595.90 108.05Z" fill="none" stroke="#b453c8" stroke-width="2.0" stroke-linejoin="miter"/>
<text x="611.00" y="109.90" font-size="16" font-weight="bold" stroke="#000" stroke-width="0.25" transform="matrix(1,0,0,1.045,0,-4.945)">WCC-8</text>
<text x="351.6" y="18.1" font-size="19" font-weight="bold">(b)</text>
<text x="541.50" y="288.8" font-size="18.8" text-anchor="middle" transform="matrix(1,0,0,1.045,0,-12.996)">Frequency (GHz)</text>
<g transform="translate(373.4,140.4) rotate(-90)"><text x="0" y="0" font-size="18" font-style="italic">ε</text><text x="11.3" y="3.0" font-size="12.5">r</text></g>
<line x1="361.9" y1="126.6" x2="364.5" y2="127.3" stroke="#000" stroke-width="1.35" stroke-linecap="round"/>
<line x1="362.0" y1="129.2" x2="364.5" y2="129.5" stroke="#000" stroke-width="1.35" stroke-linecap="round"/>
</svg>
</body></html>
